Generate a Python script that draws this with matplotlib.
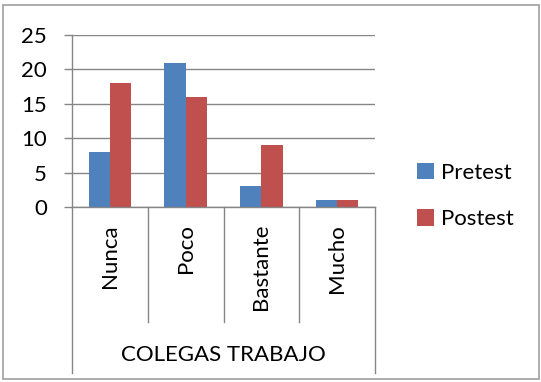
import matplotlib
matplotlib.use("Agg")
import matplotlib.pyplot as plt
from matplotlib.patches import Rectangle
from matplotlib.lines import Line2D
import numpy as np

categories = ["Nunca", "Poco", "Bastante", "Mucho"]
group_label = "COLEGAS TRABAJO"
pretest = [8, 21, 3, 1]
postest = [18, 16, 9, 1]
series_names = ["Pretest", "Postest"]
colors = ["#4F81BD", "#C0504D"]
yticks = [0, 5, 10, 15, 20, 25]

plt.rcParams["font.family"] = ["Lato", "DejaVu Sans"]
FS = 16
W, H = 541, 382
fig = plt.figure(figsize=(W / 100, H / 100), dpi=100)

def fx(px):
    return px / W

def fy(py):
    return 1 - py / H

ax_l, ax_r, ax_t, ax_b = 72, 375, 35, 207
ax = fig.add_axes([fx(ax_l), fy(ax_b), fx(ax_r) - fx(ax_l), fy(ax_t) - fy(ax_b)])

x = np.arange(len(categories))
bw = 0.28
b1 = ax.bar(x - bw / 2, pretest, bw, color=colors[0], label=series_names[0])
b2 = ax.bar(x + bw / 2, postest, bw, color=colors[1], label=series_names[1])

ax.set_xlim(-0.5, len(categories) - 0.5)
ax.set_ylim(0, 25)
ax.set_yticks(yticks)
ax.set_yticklabels([str(v) for v in yticks], fontsize=FS)
ax.tick_params(axis="y", length=6, width=1, color="#868686", pad=12)
ax.set_xticks([])
ax.yaxis.grid(True, color="#868686", linewidth=1)
ax.set_axisbelow(True)
for s in ["top", "right"]:
    ax.spines[s].set_visible(False)
for s in ["left", "bottom"]:
    ax.spines[s].set_color("#868686")
    ax.spines[s].set_linewidth(1)

# category boundaries and multi-level axis labels below the plot
trans = ax.get_xaxis_transform()
span = ax_b - ax_t
sep_bottom = (ax_b - 322) / span
outer_bottom = (ax_b - 373) / span
for i in range(len(categories) + 1):
    xb = i - 0.5
    yb = outer_bottom if i in (0, len(categories)) else sep_bottom
    ax.add_line(Line2D([xb, xb], [0, yb], transform=trans, color="#868686",
                       linewidth=1, clip_on=False))
for i, c in enumerate(categories):
    ax.text(i, (ax_b - 224) / span, c, transform=trans, rotation=90,
            ha="center", va="top", fontsize=FS)
ax.text((len(categories) - 1) / 2, (ax_b - 355) / span, group_label,
        transform=trans, ha="center", va="center", fontsize=FS)

leg = fig.legend(handles=[b1, b2], labels=series_names, loc="center left",
                 bbox_to_anchor=(fx(417), fy(196)), frameon=False, fontsize=FS,
                 handlelength=0.75, handleheight=0.75, handletextpad=0.35,
                 labelspacing=1.2, borderaxespad=0, borderpad=0)

fig.patches.append(Rectangle((fx(3), fy(379)), fx(536), fy(5) - fy(379),
                             transform=fig.transFigure, fill=False,
                             edgecolor="#A0A0A0", linewidth=1.2))

fig.savefig("out.png", dpi=100)
